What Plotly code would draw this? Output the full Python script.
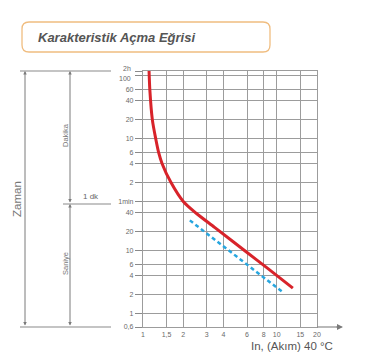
import plotly.graph_objects as go
import math

# ---- data ----
red_x = [1.11, 1.125, 1.175, 1.245, 1.31, 1.39, 1.62, 2.0, 2.5, 3.45, 5.97, 8.42, 13.2]
red_y = [7200, 3600, 1200, 600, 360, 240, 120, 60, 39, 23, 9.3, 5.3, 2.5]
blue_x = [2.24, 4.7, 11.1]
blue_y = [30, 8.9, 2.15]

x_tickvals = [1, 1.5, 2, 3, 4, 6, 8, 10, 15, 20]
x_ticktext = ['1', '1,5', '2', '3', '4', '6', '8', '10', '15', '20']
y_tickvals = [0.6, 1, 2, 4, 6, 10, 20, 40, 60, 120, 240, 360, 600, 1200, 2400, 3600, 6000, 7200]
y_ticktext = ['0,6', '1', '2', '4', '6', '10', '20', '40', '1min', '2', '4', '6', '10', '20', '40', '60', '', '']
y_top_vals = [6000, 7200]
y_top_text = ['100', '2h']

W, H = 366, 358
L, R, T, B = 143, 317, 71, 327


def xp(px):
    return (px - L) / (R - L)


def yp(py):
    return (B - py) / (B - T)


GRID = '#9c9c9c'
TXT = '#6a6a6a'
FONT = 'Liberation Sans, Arial, sans-serif'

fig = go.Figure()
fig.add_trace(go.Scatter(x=red_x, y=red_y, mode='lines',
                         line=dict(color='#d8232a', width=3, shape='spline', smoothing=0.8),
                         hoverinfo='skip'))
fig.add_trace(go.Scatter(x=blue_x, y=blue_y, mode='lines',
                         line=dict(color='#27a6df', width=2.5, dash='4px,3px'),
                         hoverinfo='skip'))

shapes = []
for (x0, x1, y) in [(20, 111, 71), (20, 111, 327), (63, 111, 204)]:
    shapes.append(dict(type='line', xref='paper', yref='paper', x0=xp(x0), x1=xp(x1),
                       y0=yp(y), y1=yp(y), line=dict(color='#8a8a8a', width=1.2)))
shapes.append(dict(type='line', xref='paper', yref='paper', x0=xp(317), x1=xp(338),
                   y0=yp(327), y1=yp(327), line=dict(color='#8a8a8a', width=1.2)))
bx0, bx1, by0, by1, rr = 22, 270, 22, 52, 7
path = (f"M {xp(bx0+rr)},{yp(by0)} L {xp(bx1-rr)},{yp(by0)} "
        f"Q {xp(bx1)},{yp(by0)} {xp(bx1)},{yp(by0+rr)} L {xp(bx1)},{yp(by1-rr)} "
        f"Q {xp(bx1)},{yp(by1)} {xp(bx1-rr)},{yp(by1)} L {xp(bx0+rr)},{yp(by1)} "
        f"Q {xp(bx0)},{yp(by1)} {xp(bx0)},{yp(by1-rr)} L {xp(bx0)},{yp(by0+rr)} "
        f"Q {xp(bx0)},{yp(by0)} {xp(bx0+rr)},{yp(by0)} Z")
shapes.append(dict(type='path', xref='paper', yref='paper', path=path,
                   line=dict(color='#f0bd80', width=1.3)))


def label(x, y, text, size, color='#777777', angle=0, xanchor='center'):
    return dict(xref='paper', yref='paper', x=xp(x), y=yp(y), text=text, textangle=angle,
                xanchor=xanchor, yanchor='middle', showarrow=False,
                font=dict(family=FONT, size=size, color=color))


ann = [
    label(36, 37, '<b><i>Karakteristik Açma Eğrisi</i></b>', 13, '#555555', xanchor='left'),
    label(17, 199, 'Zaman', 11.5, '#777777', -90),
    label(65, 135, 'Dakika', 7.5, '#777777', -90),
    label(65, 264, 'Saniye', 7.5, '#777777', -90),
    label(91, 196, '1 dk', 8, '#666666'),
    label(292, 346, 'In, (Akım) 40 °C', 11.5, '#555555'),
]
for v, t, sh in zip(y_top_vals, y_top_text, [-3, 3]):
    ann.append(dict(xref='paper', yref='y', x=xp(133), y=math.log10(v), text=t, xanchor='right',
                    yanchor='middle', yshift=sh, showarrow=False,
                    font=dict(family=FONT, size=7, color=TXT)))
for (x, ytop, ybot) in [(25, 71, 327), (70, 71, 204), (70, 204, 327)]:
    ann.append(dict(xref='paper', yref='paper', x=xp(x), y=yp(ytop), ax=0, ay=ybot - ytop,
                    text='', showarrow=True, arrowhead=2, arrowside='end+start',
                    arrowsize=0.7, arrowwidth=1, arrowcolor='#7a7a7a', standoff=0, startstandoff=0))
ann.append(dict(xref='paper', yref='paper', x=xp(343), y=yp(327), ax=-8, ay=0, text='',
                showarrow=True, arrowhead=2, arrowsize=1, arrowwidth=1.2, arrowcolor='#7a7a7a'))

fig.update_layout(
    width=W, height=H,
    margin=dict(l=L, r=W - R, t=T, b=H - B, autoexpand=False),
    paper_bgcolor='white', plot_bgcolor='white',
    showlegend=False,
    shapes=shapes, annotations=ann,
    xaxis=dict(type='log', range=[0, math.log10(20)], tickvals=x_tickvals, ticktext=x_ticktext,
               showgrid=True, gridcolor=GRID, gridwidth=1.3, showline=True, linecolor=GRID,
               linewidth=1.3, mirror=True, ticks='', zeroline=False,
               tickfont=dict(family=FONT, size=7, color=TXT)),
    yaxis=dict(type='log', range=[math.log10(0.6), math.log10(7200)], tickvals=y_tickvals,
               ticktext=y_ticktext, showgrid=True, gridcolor=GRID, gridwidth=1.3, showline=True,
               linecolor=GRID, linewidth=1.3, mirror=True, ticks='outside', ticklen=7,
               tickcolor='#8a8a8a', tickwidth=1, zeroline=False,
               tickfont=dict(family=FONT, size=7, color=TXT)),
)

fig.write_html('out.html', config={'displayModeBar': False},
               post_script="document.body.style.margin='0';document.body.style.overflow='hidden';")
